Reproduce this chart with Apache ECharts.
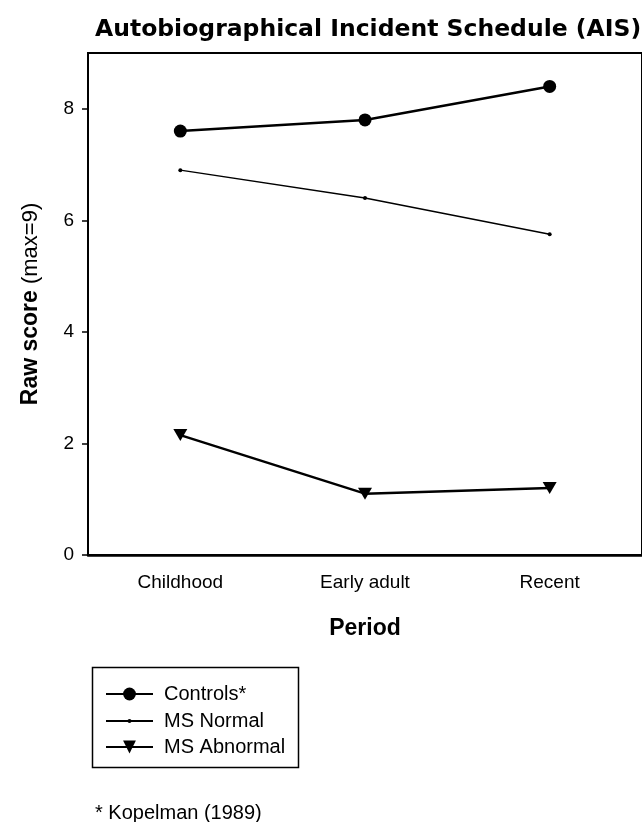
<!DOCTYPE html>
<html><head><meta charset="utf-8">
<script src="https://cdn.jsdelivr.net/npm/echarts@6/dist/echarts.min.js"></script>
<style>html,body{margin:0;padding:0;background:#fff}#c{width:642px;height:822px}</style>
</head><body><div id="c"></div>
<script>
const categories = ['Childhood', 'Early adult', 'Recent'];
const controls = [7.6, 7.8, 8.4];
const msNormal = [6.9, 6.4, 5.75];
const msAbnormal = [2.15, 1.1, 1.2];
const yTicks = [0, 2, 4, 6, 8];

const F = '"Liberation Sans", Arial, sans-serif';
const FT = '"DejaVu Sans", sans-serif';
const legendText = { color: '#000', fontFamily: F, fontSize: 20, padding: [0, 0, 0, 6] };
const chart = echarts.init(document.getElementById('c'));
chart.setOption({
  backgroundColor: '#fff',
  animation: false,
  title: {
    text: 'Autobiographical Incident Schedule (AIS)',
    left: 90, top: 13,
    textStyle: { fontFamily: FT, fontWeight: 'bold', fontSize: 23.5, color: '#000' }
  },
  grid: { left: 88, right: -3, top: 53, bottom: 267, show: true, borderColor: '#000', borderWidth: 2, backgroundColor: 'transparent' },
  xAxis: {
    type: 'category', data: categories, boundaryGap: true,
    axisLine: { lineStyle: { color: '#000', width: 2.5 } },
    axisTick: { alignWithLabel: true, length: 6, lineStyle: { color: '#000', width: 1.5 } },
    axisLabel: { color: '#000', fontFamily: F, fontSize: 19, margin: 18 },
    name: 'Period', nameLocation: 'middle', nameGap: 62,
    nameTextStyle: { color: '#000', fontFamily: F, fontWeight: 'bold', fontSize: 23 }
  },
  yAxis: {
    type: 'value', min: 0, max: 9, interval: 2,
    axisLine: { show: true, lineStyle: { color: '#000', width: 1.5 } },
    axisTick: { show: true, length: 6, customValues: yTicks, lineStyle: { color: '#000', width: 1.5 } },
    axisLabel: { color: '#000', fontFamily: F, fontSize: 19, margin: 14, customValues: yTicks },
    splitLine: { show: false },
    name: '{b|Raw score} {n|(max=9)}', nameLocation: 'middle', nameGap: 46, nameRotate: 90,
    nameTextStyle: { color: '#000', fontFamily: F, fontSize: 22,
      rich: { b: { fontFamily: F, fontWeight: 'bold', fontSize: 23, color: '#000' },
              n: { fontFamily: F, fontSize: 22, color: '#000' } } }
  },
  legend: [
    { left: 105, top: 684, padding: 0, itemWidth: 47, itemHeight: 16, textStyle: legendText, data: ['Controls*'] },
    { left: 105, top: 711, padding: 0, itemWidth: 47, itemHeight: 5, textStyle: legendText, data: ['MS Normal'] },
    { left: 105, top: 737, padding: 0, itemWidth: 47, itemHeight: 16, textStyle: legendText, data: ['MS Abnormal'] }
  ],
  graphic: [
    { type: 'rect', shape: { x: 92.5, y: 667.5, width: 206, height: 100 },
      style: { fill: 'none', stroke: '#000', lineWidth: 1.5 } },
    { type: 'text', left: 95, top: 803,
      style: { text: '* Kopelman (1989)', fontFamily: F, fontSize: 20, fill: '#000' } }
  ],
  series: [
    { name: 'Controls*', type: 'line', data: controls, symbol: 'circle', symbolSize: 13,
      lineStyle: { color: '#000', width: 2.5 }, itemStyle: { color: '#000' } },
    { name: 'MS Normal', type: 'line', data: msNormal, symbol: 'circle', symbolSize: 4,
      lineStyle: { color: '#000', width: 1.5 }, itemStyle: { color: '#000' } },
    { name: 'MS Abnormal', type: 'line', data: msAbnormal, symbol: 'triangle', symbolRotate: 180, symbolSize: [14, 12],
      lineStyle: { color: '#000', width: 2.5 }, itemStyle: { color: '#000' } }
  ]
});
</script></body></html>
